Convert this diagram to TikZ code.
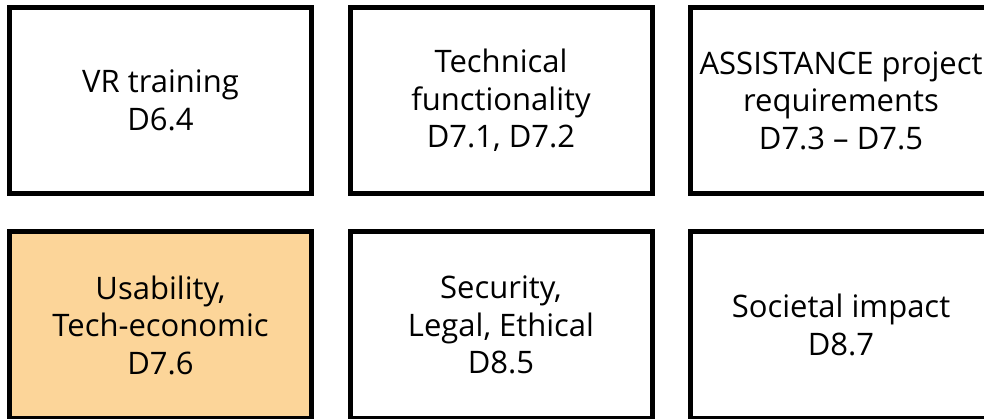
\documentclass[tikz,border=0pt]{standalone}
\usepackage{fontspec}
\setmainfont{Open Sans}
\definecolor{peach}{RGB}{252,213,153}
\begin{document}
\begin{tikzpicture}[x=1pt,y=-1pt,
  card/.style={draw=black,line width=5pt,minimum width=302pt,minimum height=186pt,
    align=center,inner sep=0pt,font=\fontsize{31pt}{37.5pt}\selectfont},
  ]
\useasboundingbox (0,0) rectangle (984,419);
\node[card] (vr) at (160.5,100.5) {VR training\\D6.4};
\node[card] (tech) at (501,100.5) {Technical\\functionality\\D7.1, D7.2};
\node[card] (assist) at (841,100.5) {ASSISTANCE project\\requirements\\D7.3 -- D7.5};
\node[card,fill=peach] (usab) at (160.5,325) {Usability,\\Tech-economic\\D7.6};
\node[card] (sec) at (501,325) {Security,\\Legal, Ethical\\D8.5};
\node[card] (soc) at (841,325) {Societal impact\\D8.7};
\end{tikzpicture}
\end{document}
